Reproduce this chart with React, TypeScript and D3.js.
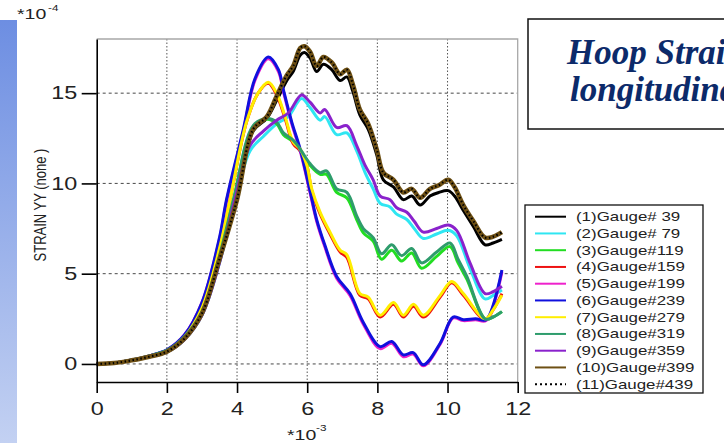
import React, { useEffect, useRef } from 'react'
import { select, scaleLinear, axisBottom, axisLeft, line, curveCatmullRom } from 'd3'

const gaugeNames = [
  '(1)Gauge# 39', '(2)Gauge# 79', '(3)Gauge#119', '(4)Gauge#159', '(5)Gauge#199', '(6)Gauge#239',
  '(7)Gauge#279', '(8)Gauge#319', '(9)Gauge#359', '(10)Gauge#399', '(11)Gauge#439',
]
const gaugeColors = [
  '#000000', '#2fe6f2', '#22dd22', '#ee1111', '#ee22cc', '#1010dd',
  '#ffee00', '#2e9c6c', '#8a22cc', '#6e5014', '#000000',
]

const gauge39 = [[0, 0], [0.5, 0.05], [1, 0.2], [1.5, 0.4], [2, 0.68], [2.5, 1.4], [3, 2.8], [3.5, 5.8], [4, 9.1], [4.46, 12.9], [4.85, 13.6], [5.13, 14.6], [5.42, 15.7], [5.6, 16.2], [5.8, 17.1], [5.92, 17.25], [6.08, 16.95], [6.27, 16.2], [6.46, 16.6], [6.7, 16.3], [6.94, 15.7], [7.13, 15.9], [7.3, 15.1], [7.5, 13.8], [7.74, 13.0], [7.98, 11.6], [8.17, 10.2], [8.46, 9.8], [8.74, 9.1], [8.98, 9.3], [9.22, 8.8], [9.5, 9.3], [9.75, 9.5], [10.02, 9.6], [10.2, 9.3], [10.45, 8.5], [10.74, 7.6], [11.07, 6.6], [11.3, 6.7], [11.55, 6.9]]
const gauge79 = [[0, 0], [0.5, 0.05], [1, 0.2], [1.5, 0.4], [2, 0.66], [2.5, 1.35], [3, 2.7], [3.5, 5.6], [3.94, 9.0], [4.37, 11.8], [4.75, 12.6], [5.13, 13.3], [5.46, 13.7], [5.84, 14.7], [6.08, 14.2], [6.37, 13.5], [6.5, 13.7], [6.84, 12.7], [7.13, 12.8], [7.41, 11.8], [7.65, 10.6], [7.88, 9.7], [8.08, 8.9], [8.36, 8.7], [8.55, 8.3], [8.84, 8.0], [9.05, 7.5], [9.31, 6.95], [9.69, 7.2], [10.02, 7.4], [10.26, 7.1], [10.64, 5.3], [11.07, 3.6], [11.3, 3.8], [11.55, 4.1]]
const gauge119 = [[0, 0], [0.5, 0.05], [1, 0.22], [1.5, 0.45], [2, 0.75], [2.5, 1.5], [3, 2.9], [3.5, 6.0], [3.9, 9.1], [4.46, 13.1], [4.85, 13.55], [5.13, 13.3], [5.32, 12.7], [5.6, 12.3], [5.8, 11.8], [6.08, 11.0], [6.37, 10.5], [6.55, 10.5], [6.84, 9.5], [7.13, 9.2], [7.41, 8.0], [7.6, 7.26], [7.88, 6.8], [8.12, 5.8], [8.41, 6.3], [8.69, 5.7], [8.98, 6.15], [9.26, 5.3], [9.69, 5.96], [10.07, 6.5], [10.3, 5.6], [10.55, 4.7], [11.07, 2.5], [11.3, 2.6], [11.55, 2.9]]
const gauge159 = [[0, 0], [0.5, 0.05], [1, 0.2], [1.5, 0.42], [2, 0.72], [2.5, 1.5], [3, 3.1], [3.5, 6.4], [3.8, 9.1], [4.27, 13.4], [4.6, 15.0], [4.89, 15.55], [5.13, 14.9], [5.37, 13.6], [5.6, 12.2], [5.8, 11.8], [5.99, 11.0], [6.13, 9.6], [6.37, 8.3], [6.65, 7.2], [6.94, 6.2], [7.13, 5.9], [7.5, 3.8], [7.74, 3.6], [8.08, 2.6], [8.46, 3.3], [8.74, 2.6], [9.03, 3.2], [9.31, 2.6], [9.79, 3.7], [10.12, 4.5], [10.45, 3.8], [11.07, 2.45], [11.3, 3.0], [11.55, 3.9]]
const gauge199 = [[0, 0], [0.5, 0.05], [1, 0.22], [1.5, 0.45], [2, 0.77], [2.5, 1.6], [3, 3.4], [3.5, 6.9], [3.7, 9.0], [4.18, 12.9], [4.51, 15.7], [4.89, 16.9], [5.18, 16.2], [5.32, 15.1], [5.56, 13.3], [5.8, 11.8], [6.08, 9.5], [6.27, 7.9], [6.5, 6.5], [6.84, 4.75], [7.22, 3.8], [7.6, 2.2], [8.08, 0.85], [8.41, 1.15], [8.74, 0.4], [9.02, 0.55], [9.31, -0.1], [9.79, 1.1], [10.16, 2.55], [10.45, 2.4], [10.8, 2.45], [11.1, 2.4], [11.55, 5.1]]
const gauge239 = [[0, 0], [0.5, 0.05], [1, 0.22], [1.5, 0.45], [2, 0.78], [2.5, 1.6], [3, 3.4], [3.5, 7.0], [3.7, 9.1], [4.18, 13.0], [4.51, 15.8], [4.89, 17.0], [5.18, 16.3], [5.32, 15.2], [5.56, 13.4], [5.8, 11.9], [6.08, 9.6], [6.27, 8.0], [6.5, 6.6], [6.84, 4.85], [7.22, 3.9], [7.6, 2.3], [8.08, 0.96], [8.41, 1.24], [8.74, 0.5], [9.02, 0.63], [9.31, -0.05], [9.79, 1.15], [10.16, 2.6], [10.45, 2.45], [10.8, 2.5], [11.1, 2.45], [11.55, 5.2]]
const gauge279 = [[0, 0], [0.5, 0.05], [1, 0.2], [1.5, 0.42], [2, 0.72], [2.5, 1.5], [3, 3.1], [3.5, 6.4], [3.8, 9.1], [4.27, 13.4], [4.6, 15.0], [4.89, 15.6], [5.13, 15.0], [5.37, 13.7], [5.6, 12.3], [5.8, 11.9], [5.99, 11.0], [6.13, 9.7], [6.37, 8.4], [6.65, 7.3], [6.94, 6.3], [7.13, 6.05], [7.5, 3.9], [7.74, 3.7], [8.08, 2.7], [8.46, 3.4], [8.74, 2.7], [9.03, 3.3], [9.31, 2.7], [9.79, 3.8], [10.12, 4.57], [10.45, 3.9], [11.07, 2.5], [11.3, 3.0], [11.55, 3.8]]
const gauge319 = [[0, 0], [0.5, 0.05], [1, 0.22], [1.5, 0.45], [2, 0.75], [2.5, 1.5], [3, 2.9], [3.5, 6.0], [3.9, 9.1], [4.46, 13.2], [4.85, 13.6], [5.13, 13.4], [5.32, 12.8], [5.6, 12.4], [5.8, 11.9], [6.08, 11.1], [6.37, 10.6], [6.55, 10.7], [6.84, 9.7], [7.13, 9.5], [7.41, 8.2], [7.6, 7.5], [7.88, 7.0], [8.12, 6.1], [8.41, 6.6], [8.69, 6.0], [8.98, 6.4], [9.26, 5.6], [9.69, 6.2], [10.07, 6.7], [10.3, 5.8], [10.55, 4.85], [11.07, 2.5], [11.3, 2.6], [11.55, 2.9]]
const gauge359 = [[0, 0], [0.5, 0.05], [1, 0.2], [1.5, 0.4], [2, 0.66], [2.5, 1.35], [3, 2.7], [3.5, 5.6], [3.94, 9.1], [4.37, 12.1], [4.75, 12.9], [5.13, 13.5], [5.46, 13.9], [5.84, 14.9], [6.08, 14.5], [6.37, 13.9], [6.5, 14.1], [6.84, 13.1], [7.13, 13.2], [7.41, 12.1], [7.65, 11.0], [7.88, 10.2], [8.08, 9.3], [8.36, 9.1], [8.55, 8.65], [8.84, 8.4], [9.05, 7.9], [9.31, 7.3], [9.69, 7.5], [10.02, 7.7], [10.26, 7.4], [10.64, 5.6], [11.07, 3.9], [11.3, 4.0], [11.55, 4.3]]
const gauge399 = [[0, 0], [0.5, 0.05], [1, 0.2], [1.5, 0.4], [2, 0.68], [2.5, 1.4], [3, 2.8], [3.5, 5.8], [4, 9.1], [4.46, 13.0], [4.85, 13.7], [5.13, 14.85], [5.42, 16.0], [5.6, 16.5], [5.8, 17.5], [5.92, 17.6], [6.08, 17.3], [6.27, 16.5], [6.46, 17.0], [6.7, 16.7], [6.94, 16.05], [7.13, 16.3], [7.3, 15.5], [7.5, 14.1], [7.74, 13.3], [7.98, 11.9], [8.17, 10.6], [8.46, 10.2], [8.74, 9.5], [8.98, 9.7], [9.22, 9.2], [9.5, 9.7], [9.75, 9.9], [10.02, 10.2], [10.2, 9.8], [10.45, 8.8], [10.74, 7.9], [11.07, 7.0], [11.3, 7.05], [11.55, 7.3]]
const gauge439 = [[0, 0], [0.5, 0.05], [1, 0.2], [1.5, 0.4], [2, 0.68], [2.5, 1.4], [3, 2.8], [3.5, 5.8], [4, 9.1], [4.46, 13.0], [4.85, 13.7], [5.13, 14.85], [5.42, 16.0], [5.6, 16.5], [5.8, 17.5], [5.92, 17.6], [6.08, 17.3], [6.27, 16.5], [6.46, 17.0], [6.7, 16.7], [6.94, 16.05], [7.13, 16.3], [7.3, 15.5], [7.5, 14.1], [7.74, 13.3], [7.98, 11.9], [8.17, 10.6], [8.46, 10.2], [8.74, 9.5], [8.98, 9.7], [9.22, 9.2], [9.5, 9.7], [9.75, 9.9], [10.02, 10.2], [10.2, 9.8], [10.45, 8.8], [10.74, 7.9], [11.07, 7.0], [11.3, 7.05], [11.55, 7.3]]

const xTicks = [0, 2, 4, 6, 8, 10, 12]
const yTicks = [0, 5, 10, 15]

function App() {
  const ref = useRef<SVGSVGElement>(null)

  useEffect(() => {
    const svg = select(ref.current)
    svg.selectAll('*').remove()

    const plot = { left: 96.7, right: 517.7, top: 39, bottom: 382 }
    const sans = 'Liberation Sans, Arial, sans-serif'

    const x = scaleLinear().domain([0, 12]).range([plot.left, plot.right])
    const y = scaleLinear().domain([-1, 18]).range([plot.bottom, plot.top])

    // blue strip on the left
    const grad = svg.append('defs').append('linearGradient')
      .attr('id', 'strip').attr('x1', 0).attr('y1', 0).attr('x2', 0).attr('y2', 1)
    grad.append('stop').attr('offset', '0%').attr('stop-color', '#6d8ee2')
    grad.append('stop').attr('offset', '100%').attr('stop-color', '#c3d1f2')
    svg.append('rect').attr('x', 0).attr('y', 20).attr('width', 17).attr('height', 423).attr('fill', 'url(#strip)')

    const text = (px: number, py: number, str: string, size: number, anchor = 'start', color = '#222') =>
      svg.append('text')
        .attr('transform', `translate(${px},${py}) scale(1.3,1)`)
        .attr('font-family', sans).attr('font-size', size)
        .attr('text-anchor', anchor).attr('fill', color)
        .text(str)

    // grid
    svg.append('g').selectAll('line').data(yTicks).enter().append('line')
      .attr('x1', plot.left).attr('x2', plot.right)
      .attr('y1', d => y(d)).attr('y2', d => y(d))
      .style('stroke', '#333').style('stroke-width', 0.9).style('stroke-dasharray', '3,3')
    svg.append('g').selectAll('line').data(xTicks.slice(1, -1)).enter().append('line')
      .attr('x1', d => x(d)).attr('x2', d => x(d))
      .attr('y1', plot.top).attr('y2', plot.bottom)
      .style('stroke', '#555').style('stroke-width', 1).style('stroke-dasharray', '1.5,2')

    // frame top / right
    svg.append('path')
      .attr('d', `M${plot.left},${plot.top}H${plot.right}V${plot.bottom}`)
      .attr('fill', 'none').attr('stroke', '#a8a8a8').attr('stroke-width', 1.3)

    const series = [gauge39, gauge79, gauge119, gauge159, gauge199, gauge239, gauge279, gauge319, gauge359, gauge399, gauge439]
    const gen = line<number[]>().x(d => x(d[0])).y(d => y(d[1])).curve(curveCatmullRom.alpha(0.5))

    series.forEach((data, i) => {
      svg.append('path')
        .attr('d', gen(data))
        .style('fill', 'none')
        .style('stroke', gaugeColors[i])
        .style('stroke-width', i === 9 ? 4.5 : i === 10 ? 2.2 : 3)
        .style('stroke-dasharray', i === 10 ? '1.5,2.5' : null)
        .style('stroke-linejoin', 'round')
    })

    // axes
    const xAxis = svg.append('g').attr('transform', `translate(0,${plot.bottom})`)
      .call(axisBottom(x).tickValues(xTicks).tickSize(11).tickSizeOuter(0).tickPadding(9))
    xAxis.select('.domain').attr('stroke', '#000').attr('stroke-width', 1.6)
    xAxis.selectAll('.tick line').attr('stroke', '#000').attr('stroke-width', 1.6)
    xAxis.selectAll('text').attr('font-family', sans).attr('font-size', 18).attr('fill', '#222')
      .attr('transform', 'scale(1.3,1)')

    const yAxis = svg.append('g').attr('transform', `translate(${plot.left},0)`)
      .call(axisLeft(y).tickValues(yTicks).tickSize(15).tickSizeOuter(0).tickPadding(0))
    yAxis.select('.domain').attr('stroke', '#000').attr('stroke-width', 1.6)
    yAxis.selectAll('.tick line').attr('stroke', '#000').attr('stroke-width', 1.6)
    yAxis.selectAll('text').attr('font-family', sans).attr('font-size', 18).attr('fill', '#222')
      .attr('transform', 'scale(1.3,1)')

    // axis labels
    svg.append('text')
      .attr('transform', 'translate(40,205) scale(1.3,1) rotate(-90)')
      .attr('font-family', sans).attr('font-size', 13).attr('fill', '#222')
      .attr('text-anchor', 'middle').attr('dy', '0.35em')
      .text('STRAIN YY (none )')
    text(17, 19, '*10', 15)
    text(48, 11, '-4', 9)
    text(287, 440, '*10', 15)
    text(316, 431, '-3', 9)

    // title box, clipped by the page edge like the original slide
    svg.append('rect').attr('x', 528).attr('y', 19).attr('width', 230).attr('height', 110)
      .attr('fill', 'white').attr('stroke', '#111').attr('stroke-width', 1.5)
    const title = svg.append('text')
      .attr('font-family', 'Liberation Serif, Times New Roman, serif').attr('font-size', 35)
      .attr('font-weight', 'bold').attr('font-style', 'italic').attr('fill', '#0c2a6a')
    title.append('tspan').attr('x', 567).attr('y', 64).text('Hoop Strain in')
    title.append('tspan').attr('x', 570).attr('y', 101).text('longitudinal direction')

    // legend
    svg.append('rect').attr('x', 525).attr('y', 205).attr('width', 178).attr('height', 188)
      .attr('fill', 'white').attr('stroke', '#111').attr('stroke-width', 1.3)
    gaugeNames.forEach((name, i) => {
      const ly = 216.7 + i * 16.75
      svg.append('line')
        .attr('x1', 535).attr('x2', 566).attr('y1', ly).attr('y2', ly)
        .style('stroke', gaugeColors[i]).style('stroke-width', 2)
        .style('stroke-dasharray', i === 10 ? '2,3' : null)
      text(576, ly + 4.5, name, 13)
    })
  }, [])

  return <svg ref={ref} width={724} height={443} style={{ position: 'absolute', left: 0, top: 0, background: 'white' }} />
}

export default App
